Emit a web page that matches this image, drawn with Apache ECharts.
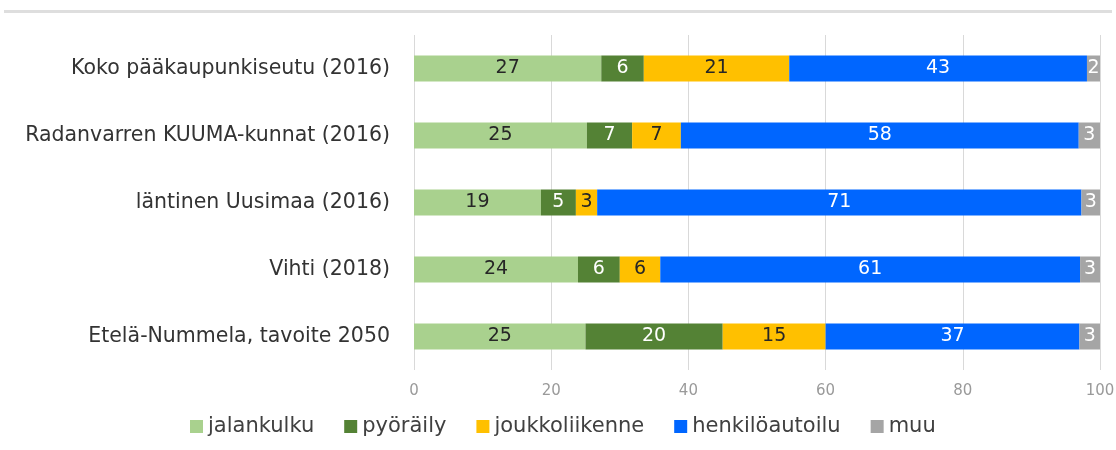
<!DOCTYPE html>
<html>
<head>
<meta charset="utf-8">
<script src="https://cdn.jsdelivr.net/npm/echarts@6/dist/echarts.min.js"></script>
<style>
  html, body { margin: 0; padding: 0; background: #fff; }
  #main { width: 1116px; height: 450px; }
</style>
</head>
<body>
<div id="main"></div>
<script>
// alueet ylhäältä alas
var categories = [
    'Koko pääkaupunkiseutu (2016)',
    'Radanvarren KUUMA-kunnat (2016)',
    'läntinen Uusimaa (2016)',
    'Vihti (2018)',
    'Etelä-Nummela, tavoite 2050'
];
var seriesNames = ['jalankulku', 'pyöräily', 'joukkoliikenne', 'henkilöautoilu', 'muu'];

// osuudet (%) luettu kuvasta, tarrat pyöristettynä
var jalankulku     = [27.3, 25.2, 18.5, 23.9, 25.0];
var pyoraily       = [6.2, 6.6, 5.1, 6.1, 20.0];
var joukkoliikenne = [21.2, 7.1, 3.1, 5.9, 15.0];
var henkiloautoilu = [43.4, 58.0, 70.6, 61.2, 37.0];
var muu            = [1.9, 3.1, 2.7, 2.9, 3.0];

var xTicks = [0, 20, 40, 60, 80, 100];

var colors = ['#a9d18e', '#548235', '#ffc000', '#0066ff', '#a5a5a5'];
var labelColors = ['#262626', '#ffffff', '#262626', '#ffffff', '#ffffff'];
var values = [jalankulku, pyoraily, joukkoliikenne, henkiloautoilu, muu];

var font = 'DejaVu Sans';

var myChart = echarts.init(document.getElementById('main'));

var series = seriesNames.map(function (name, i) {
    return {
        name: name,
        type: 'bar',
        stack: 'total',
        barWidth: 26,
        data: values[i],
        itemStyle: { color: colors[i] },
        label: {
            show: true,
            position: 'inside',
            color: labelColors[i],
            fontFamily: font,
            fontSize: 19,
            formatter: function (p) { return Math.round(p.value); }
        }
    };
});

var option = {
    animation: false,
    color: colors,
    graphic: [{
        type: 'rect',
        shape: { x: 4, y: 10, width: 1108, height: 3 },
        style: { fill: '#dedede' }
    }],
    grid: {
        left: 414,
        right: 16,
        top: 35,
        bottom: 80,
        outerBoundsMode: 'none'
    },
    xAxis: {
        type: 'value',
        min: 0,
        max: 100,
        interval: 20,
        axisLine: { show: false },
        axisTick: { show: false },
        splitLine: { lineStyle: { color: '#d9d9d9', width: 1 } },
        axisLabel: {
            color: '#9a9a9a',
            fontFamily: font,
            fontSize: 15,
            margin: 14,
            formatter: function (v) { return xTicks.indexOf(v) >= 0 ? String(v) : ''; }
        }
    },
    yAxis: {
        type: 'category',
        inverse: true,
        data: categories,
        axisLine: { show: false },
        axisTick: { show: false },
        axisLabel: {
            color: '#333333',
            fontFamily: font,
            fontSize: 20.5,
            margin: 24
        }
    },
    legend: {
        left: 185,
        top: 411,
        itemWidth: 13,
        itemHeight: 13,
        itemGap: 30,
        icon: 'rect',
        textStyle: { color: '#404040', fontFamily: font, fontSize: 21 },
        data: seriesNames
    },
    series: series
};

myChart.setOption(option);
</script>
</body>
</html>
